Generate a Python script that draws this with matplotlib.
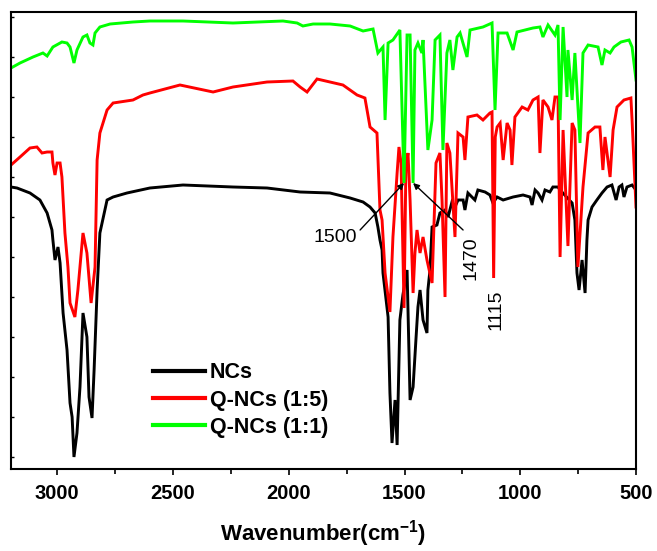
import matplotlib
matplotlib.use("Agg")
import matplotlib.pyplot as plt
from matplotlib.ticker import MultipleLocator, NullFormatter

plt.rcParams['font.family'] = ['Liberation Sans', 'DejaVu Sans']
plt.rcParams['mathtext.fontset'] = 'custom'
plt.rcParams['mathtext.rm'] = 'Liberation Sans'
plt.rcParams['mathtext.bf'] = 'Liberation Sans:bold'

# ---- data (wavenumber in cm^-1, transmittance in arbitrary units, curves offset) ----
nc_wn = [3200, 3174, 3118, 3075, 3044, 3023, 3019, 3010, 2997, 2988, 2975, 2958, 2945, 2936, 2928,
         2915, 2902, 2889, 2872, 2863, 2850, 2841, 2828, 2816, 2785, 2759, 2699, 2600, 2457, 2241,
         2094, 1951, 1822, 1735, 1679, 1649, 1627, 1615, 1606, 1597, 1593, 1571, 1563, 1554, 1541,
         1532, 1520, 1507, 1489, 1476, 1463, 1450, 1442, 1433, 1420, 1403, 1399, 1390, 1381, 1360,
         1347, 1325, 1312, 1295, 1282, 1269, 1247, 1239, 1226, 1196, 1183, 1152, 1131, 1118, 1100,
         1074, 1031, 988, 958, 949, 936, 923, 906, 893, 872, 859, 837, 828, 776, 764, 755, 746,
         733, 720, 712, 707, 690, 669, 647, 625, 604, 586, 573, 561, 552, 539, 517, 500]
nc_t = [270, 269, 264, 257, 244, 227, 217, 197, 210, 194, 144, 107, 54, 40, 0,
        24, 70, 144, 120, 60, 39, 87, 167, 224, 257, 260, 264, 269, 272, 270,
        269, 265, 264, 259, 255, 250, 244, 230, 217, 207, 184, 140, 64, 14, 57,
        12, 137, 162, 187, 57, 70, 120, 150, 167, 137, 124, 167, 187, 230, 232,
        244, 247, 240, 255, 250, 257, 257, 247, 264, 257, 267, 265, 262, 254, 260,
        257, 260, 262, 260, 252, 267, 264, 257, 267, 265, 270, 270, 267, 254, 237, 184, 167,
        197, 164, 217, 237, 250, 257, 264, 270, 272, 257, 270, 272, 260, 270, 272, 267]

q15_wn = [3200, 3161, 3118, 3088, 3066, 3044, 3023, 3019, 3010, 3001, 2988, 2980, 2967, 2954, 2945,
          2924, 2911, 2889, 2872, 2854, 2837, 2828, 2816, 2785, 2759, 2673, 2630, 2600, 2470, 2327,
          2241, 2094, 1982, 1951, 1921, 1878, 1822, 1766, 1705, 1671, 1649, 1619, 1606, 1597, 1584,
          1563, 1550, 1532, 1524, 1515, 1502, 1494, 1485, 1476, 1463, 1455, 1446, 1433, 1420, 1403,
          1381, 1364, 1347, 1338, 1325, 1317, 1304, 1282, 1269, 1247, 1239, 1226, 1187, 1161, 1131,
          1122, 1115, 1108, 1100, 1087, 1074, 1057, 1044, 1036, 1023, 992, 967, 945, 923, 915,
          902, 880, 863, 850, 837, 828, 815, 794, 776, 764, 751, 729, 707, 677, 656, 643,
          634, 612, 599, 582, 552, 522, 517, 500]
q15_t = [292, 300, 309, 310, 304, 305, 305, 294, 282, 294, 294, 280, 224, 190, 154,
         140, 167, 224, 204, 154, 190, 297, 324, 347, 354, 357, 362, 364, 372, 365,
         370, 375, 376, 370, 365, 378, 375, 372, 362, 359, 330, 324, 247, 237, 184,
         145, 220, 284, 310, 294, 149, 290, 304, 257, 164, 204, 227, 204, 220, 197,
         174, 294, 304, 257, 160, 314, 304, 220, 324, 320, 297, 340, 342, 337, 344,
         345, 179, 320, 330, 334, 297, 334, 327, 292, 340, 350, 347, 357, 360, 304,
         357, 350, 337, 360, 360, 200, 327, 211, 334, 327, 190, 270, 324, 330, 330, 287,
         320, 280, 327, 350, 357, 359, 337, 250]

q11_wn = [3200, 3161, 3105, 3062, 3044, 3019, 2980, 2958, 2945, 2928, 2915, 2889, 2872, 2859, 2846,
          2837, 2816, 2772, 2673, 2600, 2457, 2241, 2025, 1964, 1939, 1895, 1822, 1735, 1679, 1636,
          1615, 1593, 1584, 1571, 1550, 1520, 1502, 1489, 1476, 1463, 1455, 1442, 1425, 1420, 1399,
          1381, 1368, 1347, 1334, 1317, 1304, 1291, 1273, 1260, 1230, 1217, 1161, 1122, 1109, 1096,
          1057, 1031, 1014, 945, 915, 902, 880, 850, 837, 828, 815, 798, 794, 776, 764,
          742, 729, 707, 664, 647, 634, 612, 595, 565, 530, 517, 500]
q11_t = [389, 394, 400, 404, 401, 410, 415, 414, 410, 394, 407, 420, 422, 414, 412,
         424, 430, 433, 435, 436, 436, 434, 436, 434, 431, 433, 433, 431, 426, 428,
         404, 410, 337, 414, 417, 427, 274, 422, 422, 274, 407, 414, 404, 417, 307,
         337, 417, 422, 307, 404, 417, 387, 420, 424, 400, 427, 430, 434, 347, 424,
         424, 407, 425, 429, 430, 420, 432, 422, 432, 337, 430, 360, 407, 357, 404,
         314, 404, 412, 410, 392, 407, 404, 410, 415, 417, 410, 377]

labels = ['NCs', 'Q-NCs (1:5)', 'Q-NCs (1:1)']
colors = ['#000000', '#ff0000', '#00ff00']
xticks = [3000, 2500, 2000, 1500, 1000, 500]

fig = plt.figure(figsize=(6.57, 5.51), dpi=100)
ax = fig.add_axes([11/657, 1-469/551, 625/657, 457/551])

for wn, t, lab, c in zip([nc_wn, q15_wn, q11_wn], [nc_t, q15_t, q11_t], labels, colors):
    ax.plot(wn, t, color=c, lw=2.1, label=lab, solid_joinstyle='miter')

ax.set_xlim(3200, 500)
ax.set_ylim(-12, 445)
ax.set_xticks(xticks)
ax.xaxis.set_minor_locator(MultipleLocator(250))
ax.yaxis.set_major_locator(MultipleLocator(40))
ax.yaxis.set_major_formatter(NullFormatter())
ax.tick_params(axis='x', which='major', direction='out', length=4.5, width=1.2, pad=6,
               labelsize=14.5, top=False)
ax.tick_params(axis='x', which='minor', direction='out', length=3.5, width=1.2, top=False)
ax.tick_params(axis='y', which='both', direction='in', length=2.5, width=1.0, right=False)
for lbl in ax.get_xticklabels():
    lbl.set_fontweight('bold')
for s in ax.spines.values():
    s.set_linewidth(1.5)

ax.set_xlabel(r'Wavenumber(cm$^{\mathbf{-1}}$)', fontsize=16, fontweight='bold', labelpad=11)

leg = ax.legend(loc='upper left', bbox_to_anchor=(0.227, 0.234), frameon=False,
                prop={'weight': 'bold', 'size': 15.5}, handlelength=2.4, handletextpad=0.25,
                labelspacing=0.3, borderpad=0, borderaxespad=0)
for h in leg.get_lines():
    h.set_linewidth(3)

arrow = dict(arrowstyle='-|>', color='black', lw=1.0, mutation_scale=9, shrinkA=0, shrinkB=0)
ax.annotate('', xy=(1502, 274), xytext=(1692, 227), arrowprops=arrow)
ax.text(1705, 219, '1500', fontsize=14, ha='right', va='center')
ax.annotate('', xy=(1463, 274), xytext=(1247, 227), arrowprops=arrow)
ax.text(1212, 199, '1470', fontsize=14, rotation=90, ha='center', va='center')
ax.text(1105, 147, '1115', fontsize=14, rotation=90, ha='center', va='center')

fig.savefig('out.png', dpi=100)
